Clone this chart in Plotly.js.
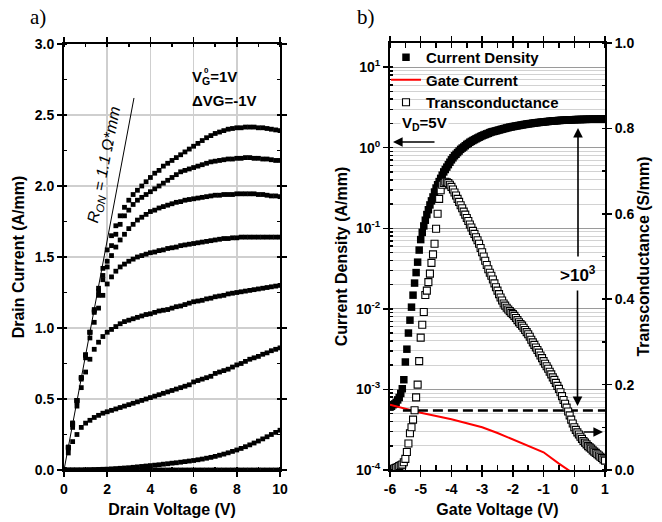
<!DOCTYPE html>
<html><head><meta charset="utf-8">
<script src="https://cdn.plot.ly/plotly-3.0.1.min.js"></script>
<style>body{margin:0;background:#fff}#chart{width:662px;height:522px}</style>
</head><body><div id="chart"></div>
<script>
// ---------- Panel a: output characteristics ----------
const drainVoltage = [0,0.2,0.4,0.6,0.8,1.0,1.2,1.4,1.6,1.8,2.0,2.2,2.4,2.6,2.8,3.0,3.2,3.4,3.6,3.8,4.0,4.2,4.4,4.6,4.8,5.0,5.2,5.4,5.6,5.8,6.0,6.2,6.4,6.6,6.8,7.0,7.2,7.4,7.6,7.8,8.0,8.2,8.4,8.6,8.8,9.0,9.2,9.4,9.6,9.8,10];
const idVgPlus1 = [0,0.16,0.33,0.49,0.65,0.81,0.97,1.13,1.28,1.42,1.55,1.65,1.72,1.79,1.85,1.90,1.94,1.97,2.00,2.03,2.06,2.09,2.11,2.14,2.16,2.18,2.20,2.22,2.24,2.26,2.28,2.30,2.32,2.34,2.355,2.37,2.38,2.39,2.40,2.405,2.41,2.41,2.415,2.415,2.415,2.41,2.41,2.405,2.40,2.395,2.39];
const idVg0 = [0,0.16,0.33,0.49,0.65,0.81,0.97,1.12,1.26,1.37,1.47,1.58,1.66,1.73,1.79,1.83,1.87,1.90,1.92,1.94,1.96,1.98,2.00,2.02,2.04,2.06,2.08,2.10,2.11,2.12,2.13,2.14,2.15,2.16,2.17,2.175,2.18,2.185,2.19,2.19,2.195,2.195,2.20,2.20,2.195,2.195,2.19,2.19,2.185,2.18,2.18];
const idVgM1 = [0,0.16,0.32,0.49,0.65,0.81,0.97,1.11,1.23,1.34,1.43,1.51,1.57,1.62,1.66,1.70,1.73,1.76,1.78,1.80,1.82,1.83,1.845,1.855,1.865,1.875,1.885,1.89,1.90,1.905,1.91,1.915,1.92,1.925,1.93,1.935,1.935,1.94,1.94,1.94,1.945,1.945,1.945,1.945,1.945,1.94,1.94,1.935,1.93,1.93,1.925];
const idVgM2 = [0,0.16,0.32,0.48,0.64,0.79,0.93,1.04,1.14,1.23,1.31,1.36,1.40,1.43,1.45,1.47,1.485,1.50,1.51,1.52,1.53,1.535,1.545,1.55,1.56,1.565,1.57,1.58,1.585,1.59,1.595,1.60,1.605,1.61,1.615,1.62,1.625,1.63,1.63,1.635,1.635,1.64,1.64,1.64,1.64,1.64,1.64,1.64,1.64,1.64,1.64];
const idVgM3 = [0,0.15,0.30,0.45,0.58,0.69,0.78,0.85,0.90,0.94,0.97,0.99,1.01,1.03,1.045,1.055,1.065,1.075,1.085,1.095,1.10,1.11,1.12,1.125,1.13,1.14,1.15,1.155,1.165,1.175,1.185,1.19,1.195,1.205,1.21,1.22,1.225,1.23,1.24,1.245,1.25,1.255,1.26,1.265,1.27,1.275,1.28,1.285,1.29,1.295,1.30];
const idVgM4 = [0,0.12,0.20,0.25,0.30,0.33,0.35,0.37,0.385,0.40,0.41,0.42,0.43,0.44,0.45,0.46,0.47,0.48,0.49,0.50,0.51,0.52,0.53,0.54,0.55,0.56,0.57,0.58,0.59,0.60,0.62,0.63,0.64,0.65,0.66,0.68,0.69,0.70,0.71,0.725,0.74,0.75,0.765,0.78,0.79,0.80,0.815,0.825,0.84,0.85,0.86];
const idVgM5 = [0,0,0,0,0,0.001,0.002,0.003,0.004,0.005,0.006,0.008,0.010,0.012,0.014,0.016,0.019,0.022,0.025,0.028,0.031,0.034,0.037,0.041,0.044,0.048,0.051,0.055,0.059,0.063,0.067,0.072,0.077,0.083,0.089,0.096,0.104,0.112,0.121,0.131,0.141,0.152,0.164,0.177,0.190,0.204,0.219,0.234,0.250,0.265,0.28];
const idVgM6 = [0,0,0,0,0,0,0,0,0,0,0,0,0,0,0,0,0,0,0,0,0,0,0,0,0,0,0,0,0,0,0,0,0,0,0,0,0,0,0,0,0,0,0,0,0,0,0,0,0,0,0];
const outputCurves = [idVgPlus1, idVg0, idVgM1, idVgM2, idVgM3, idVgM4, idVgM5, idVgM6];
const ronLineV = [0, 3.24];
const ronLineI = [0, 2.62];

// ---------- Panel b: transfer characteristics ----------
const gateVoltage = [
  -6,-5.95,-5.9,-5.85,-5.8,-5.75,-5.7,-5.65,-5.6,-5.55,
  -5.5,-5.45,-5.4,-5.35,-5.3,-5.25,-5.2,-5.15,-5.1,-5.05,
  -5,-4.95,-4.9,-4.85,-4.8,-4.75,-4.7,-4.65,-4.6,-4.55,
  -4.5,-4.45,-4.4,-4.35,-4.3,-4.25,-4.2,-4.15,-4.1,-4.05,
  -4,-3.95,-3.9,-3.85,-3.8,-3.75,-3.7,-3.65,-3.6,-3.55,
  -3.5,-3.45,-3.4,-3.35,-3.3,-3.25,-3.2,-3.15,-3.1,-3.05,
  -3,-2.95,-2.9,-2.85,-2.8,-2.75,-2.7,-2.65,-2.6,-2.55,
  -2.5,-2.45,-2.4,-2.35,-2.3,-2.25,-2.2,-2.15,-2.1,-2.05,
  -2,-1.95,-1.9,-1.85,-1.8,-1.75,-1.7,-1.65,-1.6,-1.55,
  -1.5,-1.45,-1.4,-1.35,-1.3,-1.25,-1.2,-1.15,-1.1,-1.05,
  -1,-0.95,-0.9,-0.85,-0.8,-0.75,-0.7,-0.65,-0.6,-0.55,
  -0.5,-0.45,-0.4,-0.35,-0.3,-0.25,-0.2,-0.15,-0.1,-0.05,
  0,0.05,0.1,0.15,0.2,0.25,0.3,0.35,0.4,0.45,
  0.5,0.55,0.6,0.65,0.7,0.75,0.8,0.85,0.9,0.95,
  1];
const currentDensity = [
  6.03e-4,6.17e-4,6.46e-4,6.61e-4,6.92e-4,7.41e-4,7.94e-4,8.91e-4,1.02e-3,1.32e-3,
  2.19e-3,3.16e-3,5.01e-3,7.24e-3,1.05e-2,1.48e-2,2.09e-2,2.82e-2,3.80e-2,5.37e-2,
  7.24e-2,8.91e-2,0.107,0.126,0.148,0.170,0.195,0.219,0.245,0.282,
  0.316,0.347,0.380,0.417,0.457,0.501,0.537,0.575,0.617,0.661,
  0.708,0.75,0.794,0.83,0.871,0.91,0.955,0.99,1.02,1.06,
  1.10,1.13,1.17,1.20,1.23,1.26,1.29,1.32,1.35,1.38,
  1.41,1.435,1.46,1.485,1.51,1.54,1.57,1.585,1.60,1.62,
  1.64,1.66,1.68,1.70,1.72,1.74,1.76,1.78,1.80,1.815,
  1.83,1.845,1.86,1.875,1.89,1.905,1.92,1.935,1.95,1.965,
  1.98,1.99,2.00,2.015,2.03,2.04,2.05,2.06,2.07,2.08,
  2.09,2.10,2.11,2.12,2.13,2.14,2.15,2.155,2.16,2.17,
  2.18,2.185,2.19,2.195,2.20,2.205,2.21,2.215,2.22,2.225,
  2.23,2.235,2.24,2.24,2.24,2.245,2.25,2.25,2.25,2.255,
  2.26,2.26,2.26,2.26,2.26,2.265,2.27,2.27,2.27,2.275,
  2.28];
const transconductance = [
  0,0.001,0.002,0.004,0.005,0.007,0.009,0.011,0.013,0.018,
  0.026,0.042,0.062,0.086,0.10,0.118,0.14,0.17,0.20,0.255,
  0.31,0.34,0.37,0.41,0.42,0.44,0.46,0.485,0.505,0.53,
  0.565,0.60,0.635,0.655,0.668,0.672,0.675,0.674,0.672,0.668,
  0.663,0.657,0.65,0.643,0.635,0.628,0.62,0.613,0.605,0.598,
  0.59,0.583,0.575,0.568,0.56,0.553,0.545,0.538,0.53,0.52,
  0.51,0.50,0.49,0.48,0.47,0.462,0.455,0.446,0.437,0.428,
  0.42,0.412,0.404,0.397,0.39,0.385,0.38,0.376,0.372,0.368,
  0.365,0.361,0.356,0.351,0.346,0.342,0.338,0.333,0.328,0.323,
  0.318,0.312,0.305,0.299,0.293,0.287,0.281,0.275,0.268,0.262,
  0.255,0.249,0.243,0.237,0.23,0.224,0.217,0.211,0.204,0.197,
  0.19,0.182,0.173,0.164,0.155,0.146,0.137,0.128,0.118,0.109,
  0.10,0.094,0.088,0.083,0.078,0.073,0.068,0.064,0.06,0.056,
  0.053,0.05,0.046,0.043,0.04,0.037,0.034,0.031,0.028,0.025,
  0.022];
const gateCurrentV = [-6,-5.5,-5,-4.5,-4,-3.5,-3,-2.5,-2,-1.5,-1,-0.5,0,0.5,1];
const gateCurrent = [6.46e-4,5.75e-4,5.13e-4,4.68e-4,4.27e-4,3.80e-4,3.39e-4,2.88e-4,2.40e-4,2.00e-4,1.66e-4,1.20e-4,8.9e-5,6.6e-5,4.9e-5];
const offLevelV = [-5.58, 1];
const offLevel = [5.46e-4, 5.46e-4];

const logTickVals = [1e-4,1e-3,1e-2,1e-1,1,10];
const logTickText = ['10<sup>-4</sup>','10<sup>-3</sup>','10<sup>-2</sup>','10<sup>-1</sup>','10<sup>0</sup>','10<sup>1</sup>'];
const gateTickVals = [-6,-5,-4,-3,-2,-1,0,1];
const gateTickText = ['-6','-5','-4','-3','-2','-1','0','1'];

const FONT = 'Liberation Sans, Arial, sans-serif';
const W = 662, H = 522;
const px = v => v / W, py = v => 1 - v / H;

const traces = [];
outputCurves.forEach(c => traces.push({
  x: drainVoltage, y: c, xaxis: 'x', yaxis: 'y', mode: 'markers', showlegend: false,
  marker: {symbol: 'square', size: 4.8, color: '#000'}, hoverinfo: 'skip'
}));
traces.push({x: ronLineV, y: ronLineI, xaxis: 'x', yaxis: 'y', mode: 'lines', showlegend: false,
  line: {color: '#000', width: 1}, cliponaxis: false});

traces.push({x: gateVoltage, y: currentDensity, xaxis: 'x2', yaxis: 'y2', mode: 'markers',
  name: 'Current Density', marker: {symbol: 'square', size: 7.5, color: '#000'}});
traces.push({x: gateCurrentV, y: gateCurrent, xaxis: 'x2', yaxis: 'y2', mode: 'lines',
  name: 'Gate Current', line: {color: '#ff0000', width: 2}});
traces.push({x: offLevelV, y: offLevel, xaxis: 'x2', yaxis: 'y2', mode: 'lines', showlegend: false,
  line: {color: '#000', width: 2.5, dash: '10px,5px'}});
traces.push({x: gateVoltage, y: transconductance, xaxis: 'x2', yaxis: 'y3', mode: 'markers',
  name: 'Transconductance', marker: {symbol: 'square', size: 7, color: '#fff', line: {color: '#000', width: 1.1}}});

const tickFont = {family: FONT, size: 14, color: '#000', weight: 700};
const titleFont = {family: FONT, size: 16, color: '#000', weight: 700};
const baseAxis = {showline: true, linewidth: 2, linecolor: '#000', mirror: 'allticks',
  ticks: 'outside', ticklen: 5, tickwidth: 1.5, tickcolor: '#000', tickfont: tickFont,
  zeroline: false, automargin: false, fixedrange: true};

const boldTxt = (s) => ({family: FONT, size: s, color: '#000', weight: 700});
const note = (text, x, y, extra) => Object.assign({text: text, x: px(x), y: py(y), xref: 'paper', yref: 'paper',
  xanchor: 'center', yanchor: 'middle', showarrow: false}, extra || {});
const arrow = (x, y, ax, ay) => ({text: '', x: px(x), y: py(y), xref: 'paper', yref: 'paper', showarrow: true,
  ax: ax, ay: ay, arrowhead: 2, arrowsize: 1.2, arrowwidth: 1.6, arrowcolor: '#000'});

const layout = {
  width: W, height: H, margin: {l: 0, r: 0, t: 0, b: 0},
  paper_bgcolor: '#fff', plot_bgcolor: '#fff',
  font: {family: FONT, color: '#000'},
  xaxis: Object.assign({}, baseAxis, {domain: [px(64), px(280)], range: [0, 10], dtick: 2,
    showgrid: true, gridcolor: '#cfcfcf', gridwidth: 1.5,
    minor: {dtick: 1, ticks: 'inside', ticklen: 3, tickcolor: '#000'},
    title: {text: 'Drain Voltage (V)', font: titleFont, standoff: 8}, anchor: 'y'}),
  yaxis: Object.assign({}, baseAxis, {domain: [py(470), py(44)], range: [0, 3], dtick: 0.5, tickformat: '.1f',
    showgrid: true, gridcolor: '#cfcfcf', gridwidth: 1.5,
    minor: {dtick: 0.25, ticks: 'inside', ticklen: 3, tickcolor: '#000'},
    title: {text: 'Drain Current (A/mm)', font: titleFont, standoff: 6}, anchor: 'x'}),
  xaxis2: Object.assign({}, baseAxis, {domain: [px(390), px(605)], range: [-6, 1],
    tickmode: 'array', tickvals: gateTickVals, ticktext: gateTickText,
    showgrid: false, minor: {dtick: 0.5, ticks: 'inside', ticklen: 3, tickcolor: '#000'},
    title: {text: 'Gate Voltage (V)', font: titleFont, standoff: 8}, anchor: 'y2'}),
  yaxis2: Object.assign({}, baseAxis, {domain: [py(470), py(43)], type: 'log', range: [-4, 1.3],
    tickmode: 'array', tickvals: logTickVals, ticktext: logTickText, mirror: false,
    showgrid: true, gridcolor: '#9a9a9a', gridwidth: 1,
    minor: {dtick: 'D1', ticks: 'inside', ticklen: 3, tickcolor: '#000', showgrid: true, gridcolor: '#d2d2d2', gridwidth: 1},
    title: {text: 'Current Density (A/mm)', font: titleFont, standoff: 4}, anchor: 'x2'}),
  yaxis3: Object.assign({}, baseAxis, {overlaying: 'y2', side: 'right', range: [0, 1], dtick: 0.2, tickformat: '.1f',
    mirror: false, showgrid: false, anchor: 'x2',
    minor: {dtick: 0.1, ticks: 'inside', ticklen: 3, tickcolor: '#000'},
    title: {text: 'Transconductance (S/mm)', font: titleFont, standoff: 4}}),
  showlegend: true,
  legend: {x: px(386), y: py(41), xanchor: 'left', yanchor: 'top', bgcolor: 'rgba(0,0,0,0)',
    font: boldTxt(15), itemwidth: 30, tracegroupgap: 0},
  annotations: [
    note('a)', 38, 17, {font: {family: 'Liberation Serif, Times New Roman, serif', size: 21, color: '#000'}}),
    note('b)', 366, 17, {font: {family: 'Liberation Serif, Times New Roman, serif', size: 21, color: '#000'}}),
    note('V<sub>G</sub>=1V', 190, 77, {xanchor: 'left', font: boldTxt(15)}),
    note('0', 201.5, 70, {xanchor: 'left', font: boldTxt(8)}),
    note('\u0394VG=-1V', 190, 101, {xanchor: 'left', font: boldTxt(15)}),
    note('R<sub>ON</sub> = 1.1 \u03A9*mm', 104, 165, {textangle: -79,
      font: {family: FONT, size: 16, color: '#000', style: 'italic'}}),
    note('V<sub>D</sub>=5V', 400, 123, {xanchor: 'left', bgcolor: '#fff', font: boldTxt(15)}),
    note('>10<sup>3</sup>', 578, 274, {font: boldTxt(17)}),
    arrow(393, 142, 43, 0),
    arrow(578, 128, 0, 130),
    arrow(577.5, 406, 0, -117),
    arrow(603, 432, -21, 0)
  ]
};

Plotly.newPlot('chart', traces, layout, {staticPlot: true, displayModeBar: false});
</script>
</body></html>
